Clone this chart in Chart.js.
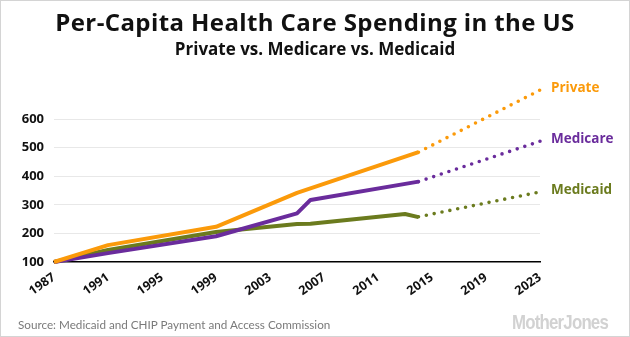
<!DOCTYPE html>
<html>
<head>
<meta charset="utf-8">
<script src="https://cdn.jsdelivr.net/npm/chart.js@4"></script>
<style>
  html, body { margin: 0; padding: 0; background: #fff; }
  #wrap { position: relative; width: 630px; height: 337px; overflow: hidden; background: #fff; }
  #c { position: absolute; left: 0; top: 0; }
  #frame { position: absolute; left: 0; top: 0; width: 630px; height: 337px; box-sizing: border-box; border: 1px solid #d4d4d4; pointer-events: none; }
  .t { position: absolute; left: 0; width: 630px; text-align: center; color: #111; font-family: "Open Sans", sans-serif; font-weight: 700; white-space: nowrap; }
  #title { top: 10px; font-size: 24px; line-height: 24px; letter-spacing: 0.4px; }
  #subtitle { top: 40px; font-size: 17px; line-height: 17px; }
  #source { position: absolute; left: 18px; top: 318px; font-family: Lato, sans-serif; font-size: 11.7px; line-height: 12px; color: #7a7a7a; white-space: nowrap; }
  #logo { position: absolute; left: 512px; top: 311px; font-family: "Liberation Sans", "DejaVu Sans", sans-serif; font-weight: 700; font-size: 21px; line-height: 21px; letter-spacing: -1px; color: #d2d2d2; white-space: nowrap; transform-origin: 0 0; }
</style>
</head>
<body>
<div id="wrap">
  <canvas id="c" width="630" height="337"></canvas>
  <div id="title" class="t">Per-Capita Health Care Spending in the US</div>
  <div id="subtitle" class="t">Private vs. Medicare vs. Medicaid</div>
  <div id="source">Source: Medicaid and CHIP Payment and Access Commission</div>
  <div id="logo">MotherJones</div>
  <div id="frame"></div>
</div>
<script>
// ---- data ----
const seriesNames = ['Private', 'Medicare', 'Medicaid'];
const seriesColors = ['#FB9A0A', '#6A2C9C', '#6B7B1E'];

const privateYears  = [1987, 1991, 1999, 2005, 2014];
const privateValues = [100, 159, 223, 342, 484];

const medicareYears  = [1987, 1991, 1999, 2005, 2006, 2014];
const medicareValues = [100, 131, 190, 270, 317, 381];

const medicaidYears  = [1987, 1991, 1999, 2005, 2006, 2013, 2014];
const medicaidValues = [100, 142, 205, 233, 234, 268, 257];

// projections (dotted)
const projYears = [2014, 2023];
const privateProj  = [484, 701];
const medicareProj = [381, 522];
const medicaidProj = [258, 345];

const xTicks = [1987, 1991, 1995, 1999, 2003, 2007, 2011, 2015, 2019, 2023];
const yTicks = [100, 200, 300, 400, 500, 600];

// logo: squeeze to a condensed look
(function () {
  const logo = document.getElementById('logo');
  const w = logo.getBoundingClientRect().width;
  if (w > 0) logo.style.transform = 'scaleX(' + (96 / w) + ')';
})();

// ---- build ----
function pts(xs, ys) { return xs.map((x, i) => ({ x: x, y: ys[i] })); }

const solid = [pts(privateYears, privateValues), pts(medicareYears, medicareValues), pts(medicaidYears, medicaidValues)];
const proj = [pts(projYears, privateProj), pts(projYears, medicareProj), pts(projYears, medicaidProj)];

const datasets = [];
seriesNames.forEach((name, i) => {
  datasets.push({
    label: name, data: solid[i], borderColor: seriesColors[i], backgroundColor: seriesColors[i],
    borderWidth: 4, pointRadius: 0, tension: 0, order: i, clip: false, borderJoinStyle: 'round'
  });
});
seriesNames.forEach((name, i) => {
  datasets.push({
    label: name + ' projection', data: proj[i], borderColor: seriesColors[i], backgroundColor: seriesColors[i],
    borderWidth: 3.6, borderDash: [0, 8], borderCapStyle: 'round', pointRadius: 0, tension: 0,
    order: i, clip: false, isProjection: true, seriesIndex: i
  });
});

const tickFont = '"Open Sans", sans-serif';

const endLabels = {
  id: 'endLabels',
  afterDatasetsDraw(chart) {
    const ctx = chart.ctx;
    ctx.save();
    ctx.font = '700 13.5px ' + tickFont;
    ctx.textBaseline = 'middle';
    ctx.textAlign = 'left';
    chart.data.datasets.forEach((ds, di) => {
      if (!ds.isProjection) return;
      const meta = chart.getDatasetMeta(di);
      const last = meta.data[meta.data.length - 1];
      ctx.fillStyle = ds.borderColor;
      ctx.fillText(seriesNames[ds.seriesIndex], chart.chartArea.right + 11, last.y - 2);
    });
    ctx.restore();
  }
};

new Chart(document.getElementById('c'), {
  type: 'line',
  data: { datasets: datasets },
  plugins: [endLabels],
  options: {
    responsive: false,
    devicePixelRatio: 1,
    animation: false,
    events: [],
    layout: { padding: { top: 119, right: 90, bottom: 0, left: 0 } },
    plugins: { legend: { display: false }, title: { display: false }, tooltip: { enabled: false } },
    scales: {
      x: {
        type: 'linear', min: 1987, max: 2023,
        afterBuildTicks(scale) { scale.ticks = xTicks.map(v => ({ value: v })); },
        afterFit(scale) { scale.height = 75; },
        ticks: {
          autoSkip: false, minRotation: 35, maxRotation: 35, padding: 8,
          color: '#111', font: { family: tickFont, weight: '700', size: 12.5 },
          callback: v => String(v)
        },
        grid: { display: false, drawTicks: false },
        border: { display: true, color: '#000', width: 1.5 }
      },
      y: {
        min: 100, max: 600,
        afterBuildTicks(scale) { scale.ticks = yTicks.map(v => ({ value: v })); },
        afterFit(scale) { scale.width = 54; },
        ticks: {
          padding: 10, color: '#111',
          font: { family: tickFont, weight: '700', size: 13 },
          callback: v => String(v)
        },
        grid: {
          drawTicks: false, lineWidth: 1,
          color: ctx => (ctx.tick && ctx.tick.value === 100) ? 'rgba(0,0,0,0)' : '#e8e8e8'
        },
        border: { display: false }
      }
    }
  }
});
</script>
</body>
</html>
